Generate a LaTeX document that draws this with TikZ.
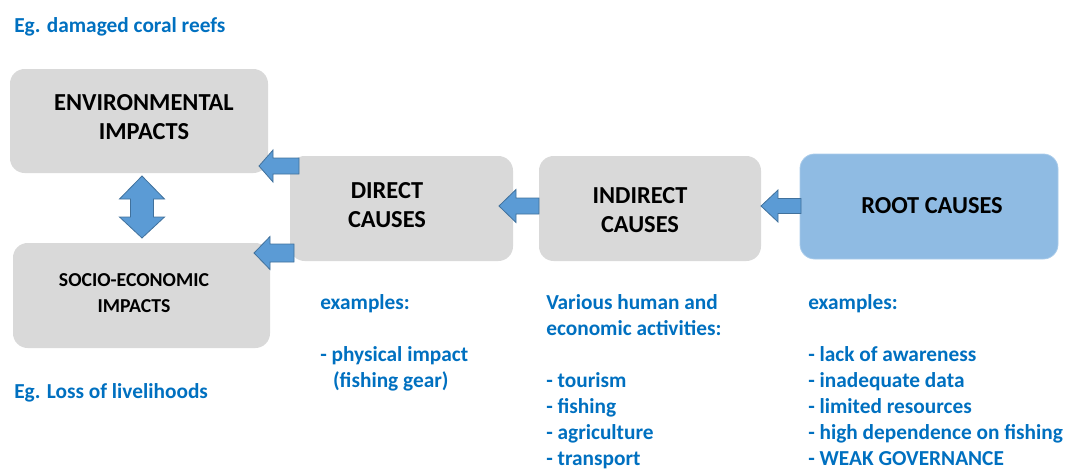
\documentclass[tikz,border=0pt]{standalone}
\usepackage{fontspec}
\setmainfont{Carlito}
\definecolor{boxgray}{HTML}{D9D9D9}
\definecolor{arrowblue}{HTML}{5B9BD5}
\definecolor{arrowedge}{HTML}{41719C}
\definecolor{rootblue}{HTML}{8FBBE3}
\definecolor{rootedge}{HTML}{A9CBEA}
\definecolor{txtblue}{HTML}{0070C0}
\tikzset{
  box/.style={rounded corners=11pt, fill=boxgray, draw=none, inner sep=0pt},
  rootbox/.style={rounded corners=11pt, fill=rootblue, draw=rootedge, line width=0.6pt, inner sep=0pt},
  head/.style={font=\fontsize{18.3}{21.5}\selectfont\bfseries, align=center, text=black},
  headsmall/.style={font=\fontsize{14.8}{19.5}\selectfont\bfseries, align=center, text=black},
  note/.style={font=\fontsize{16}{19.5}\selectfont\bfseries, text=txtblue, align=left, anchor=west, inner sep=0pt},
  blockarrow/.style={fill=arrowblue, draw=arrowedge, line width=0.6pt, line join=miter}
}
\begin{document}
\begin{tikzpicture}[x=0.75pt,y=-0.75pt]
\useasboundingbox (0,0) rectangle (1068,468);
% boxes
\node[box, minimum width=193.5pt, minimum height=78pt] (env) at (139,121) {};
\node[box, minimum width=192.75pt, minimum height=78.75pt] (soc) at (141.5,295.5) {};
\node[box, minimum width=167.25pt, minimum height=78.75pt] (dir) at (401.5,208.5) {};
\node[box, minimum width=166.5pt, minimum height=78.75pt] (ind) at (650,208.5) {};
\node[rootbox, minimum width=193.5pt, minimum height=78.75pt] (root) at (929,206.5) {};
% box texts
\node[head] (envT) at (144,117) {ENVIRONMENTAL\\IMPACTS};
\node[headsmall] (socT) at (134,293) {SOCIO-ECONOMIC\\IMPACTS};
\node[head] (dirT) at (387,205) {DIRECT\\CAUSES};
\node[head] (indT) at (640,210) {INDIRECT\\CAUSES};
\node[head] (rootT) at (932,206) {ROOT CAUSES};
% block arrows
\draw[blockarrow] (259,166) -- (273,150) -- (273,158) -- (299,158) -- (299,174) -- (273,174) -- (273,182) -- cycle;
\draw[blockarrow] (254,253) -- (270,236.5) -- (270,244) -- (294,244) -- (294,262) -- (270,262) -- (270,269.5) -- cycle;
\draw[blockarrow] (499,206) -- (516,189.5) -- (516,198) -- (539,198) -- (539,214) -- (516,214) -- (516,222.5) -- cycle;
\draw[blockarrow] (761,206) -- (778,190) -- (778,198.5) -- (801,198.5) -- (801,213.5) -- (778,213.5) -- (778,222) -- cycle;
\draw[blockarrow] (142,176) -- (164.5,199) -- (153.5,199) -- (153.5,217) -- (164.5,217) -- (142,238) -- (119.5,217) -- (130.5,217) -- (130.5,199) -- (119.5,199) -- cycle;
% notes
\node[note] (egA) at (14,27) {Eg. damaged coral reefs};
\node[note] (egB) at (14,393) {Eg. Loss of livelihoods};
\node[note, anchor=north west] (dirN) at (320,294.5) {examples:\\[\baselineskip]- physical impact\\\hspace{0.6em}(fishing gear)};
\node[note, anchor=north west] (indN) at (546,294.5) {Various human and\\economic activities:\\[\baselineskip]- tourism\\- fishing\\- agriculture\\- transport};
\node[note, anchor=north west] (rootN) at (808,294.5) {examples:\\[\baselineskip]- lack of awareness\\- inadequate data\\- limited resources\\- high dependence on fishing\\- WEAK GOVERNANCE};
\end{tikzpicture}
\end{document}
